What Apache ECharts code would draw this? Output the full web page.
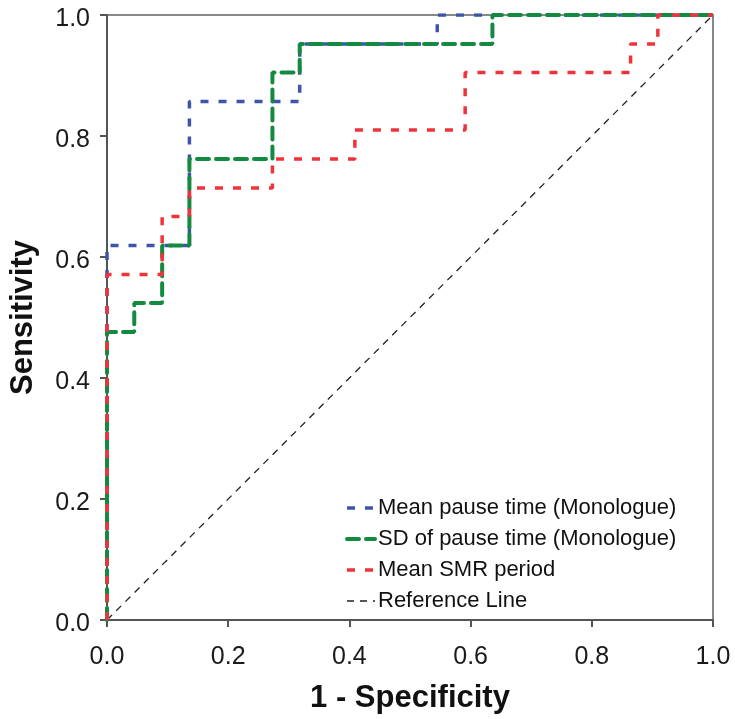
<!DOCTYPE html>
<html>
<head>
<meta charset="utf-8">
<script src="https://cdn.jsdelivr.net/npm/echarts@6/dist/echarts.min.js"></script>
<style>
  html, body { margin: 0; padding: 0; background: #fff; }
  #roc { width: 735px; height: 719px; }
</style>
</head>
<body>
<div id="roc"></div>
<script>
// ROC corner points (x = 1 - specificity, y = sensitivity)
const meanPauseX = [0, 0, 0.136, 0.136, 0.318, 0.318, 0.545, 0.545, 1];
const meanPauseY = [0, 0.619, 0.619, 0.857, 0.857, 0.952, 0.952, 1, 1];

const sdPauseX = [0, 0, 0.045, 0.045, 0.091, 0.091, 0.136, 0.136, 0.273, 0.273, 0.318, 0.318, 0.636, 0.636, 1];
const sdPauseY = [0, 0.476, 0.476, 0.524, 0.524, 0.619, 0.619, 0.762, 0.762, 0.905, 0.905, 0.952, 0.952, 1, 1];

const smrX = [0, 0, 0.091, 0.091, 0.136, 0.136, 0.273, 0.273, 0.409, 0.409, 0.591, 0.591, 0.864, 0.864, 0.909, 0.909, 1];
const smrY = [0, 0.571, 0.571, 0.667, 0.667, 0.714, 0.714, 0.762, 0.762, 0.810, 0.810, 0.905, 0.905, 0.952, 0.952, 1, 1];

const refX = [0, 1];
const refY = [0, 1];

const seriesNames = ['Mean pause time (Monologue)', 'SD of pause time (Monologue)', 'Mean SMR period', 'Reference Line'];

const toPairs = (xs, ys) => xs.map((x, i) => [x, ys[i]]);

const chart = echarts.init(document.getElementById('roc'));

const tickFont = { fontFamily: '"Liberation Sans", Arial, sans-serif', fontSize: 25, color: '#1a1a1a' };
const nameFont = { fontFamily: '"Liberation Sans", Arial, sans-serif', fontSize: 31, fontWeight: 'bold', color: '#111' };

const option = {
  animation: false,
  grid: {
    left: 107, top: 15, right: 22, bottom: 99,
    show: true, borderColor: '#888', borderWidth: 2
  },
  legend: {
    orient: 'vertical',
    left: 340,
    top: 491,
    itemWidth: 28,
    itemHeight: 14,
    itemGap: 7,
    itemStyle: { opacity: 0 },
    textStyle: { fontFamily: '"Liberation Sans", Arial, sans-serif', fontSize: 22, color: '#111', lineHeight: 24, padding: [0, 0, 0, -2] },
    data: [
      { name: seriesNames[0], lineStyle: { width: 3.5 } },
      { name: seriesNames[1], lineStyle: { width: 4 } },
      { name: seriesNames[2], lineStyle: { width: 3.5 } },
      { name: seriesNames[3], lineStyle: { width: 1.3 } }
    ]
  },
  xAxis: {
    type: 'value', min: 0, max: 1, interval: 0.2,
    name: '1 - Specificity', nameLocation: 'middle', nameGap: 63,
    nameTextStyle: nameFont,
    axisLine: { lineStyle: { color: '#555', width: 2 } },
    axisTick: { length: 7, lineStyle: { color: '#555', width: 2 } },
    axisLabel: Object.assign({ margin: 25, formatter: v => v.toFixed(1) }, tickFont),
    splitLine: { show: false }
  },
  yAxis: {
    type: 'value', min: 0, max: 1, interval: 0.2,
    name: 'Sensitivity', nameLocation: 'middle', nameGap: 68,
    nameTextStyle: nameFont,
    axisLine: { lineStyle: { color: '#555', width: 2 } },
    axisTick: { length: 7, lineStyle: { color: '#555', width: 2 } },
    axisLabel: {
      margin: 17,
      formatter: v => '{t|' + v.toFixed(1) + '}',
      rich: { t: Object.assign({ padding: [8, 0, 0, 0] }, tickFont) }
    },
    splitLine: { show: false }
  },
  series: [
    {
      name: seriesNames[3], type: 'line', symbol: 'none', z: 1,
      data: toPairs(refX, refY),
      itemStyle: { color: '#222' },
      lineStyle: { color: '#222', width: 1.3, type: [7, 6] }
    },
    {
      name: seriesNames[0], type: 'line', symbol: 'none', z: 2,
      data: toPairs(meanPauseX, meanPauseY),
      itemStyle: { color: '#3d55a8' },
      lineStyle: { color: '#3d55a8', width: 3.5, type: [8, 10] }
    },
    {
      name: seriesNames[1], type: 'line', symbol: 'none', z: 3,
      data: toPairs(sdPauseX, sdPauseY),
      itemStyle: { color: '#148a40' },
      lineStyle: { color: '#148a40', width: 4, type: [12, 7], cap: 'round' }
    },
    {
      name: seriesNames[2], type: 'line', symbol: 'none', z: 4,
      data: toPairs(smrX, smrY),
      itemStyle: { color: '#f0333b' },
      lineStyle: { color: '#f0333b', width: 3.5, type: [8, 10] }
    }
  ]
};

chart.setOption(option);
</script>
</body>
</html>
